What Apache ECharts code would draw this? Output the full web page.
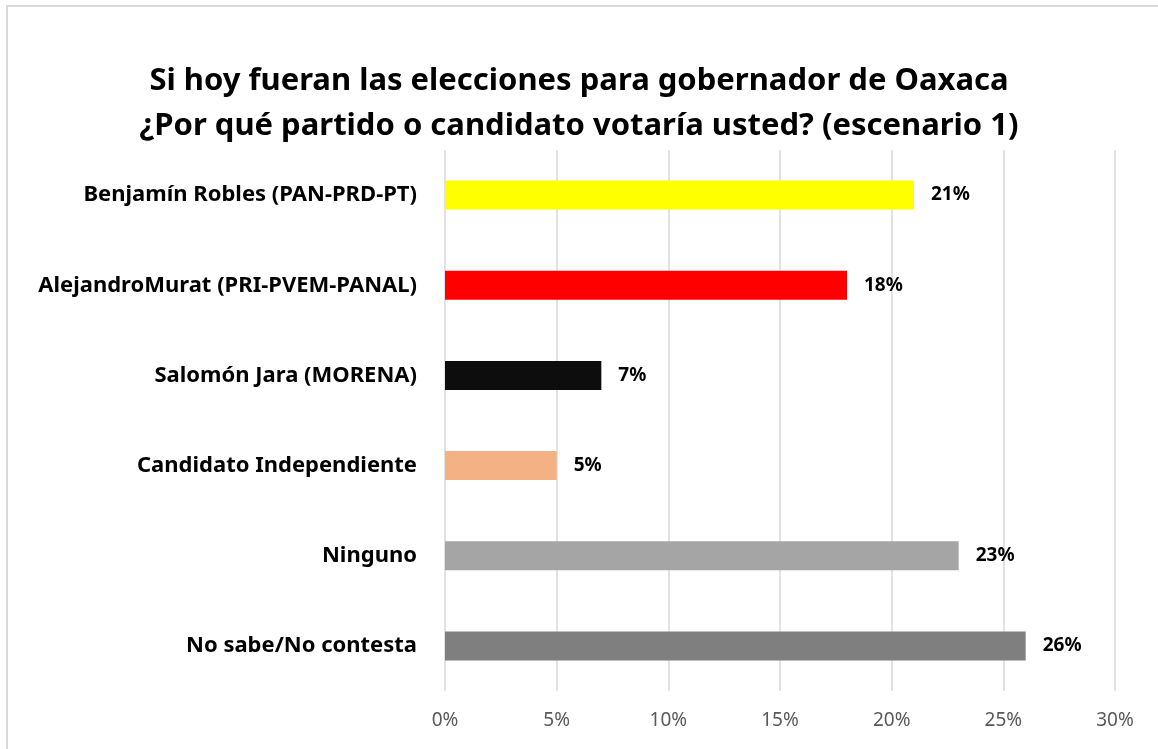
<!DOCTYPE html>
<html>
<head>
<meta charset="utf-8">
<script src="https://cdn.jsdelivr.net/npm/echarts@6/dist/echarts.min.js"></script>
<style>
html, body { margin: 0; padding: 0; background: #fff; }
#chart { width: 1158px; height: 749px; }
</style>
</head>
<body>
<div id="chart"></div>
<script>
// datos de la encuesta (escenario 1)
var categorias = [
    'Benjamín Robles (PAN-PRD-PT)',
    'AlejandroMurat (PRI-PVEM-PANAL)',
    'Salomón Jara (MORENA)',
    'Candidato Independiente',
    'Ninguno',
    'No sabe/No contesta'
];
var porcentajes = [21, 18, 7, 5, 23, 26];
var colores = ['#FFFF00', '#FF0000', '#0D0D0D', '#F4B183', '#A5A5A5', '#7F7F7F'];
var ticksX = [0, 5, 10, 15, 20, 25, 30];

var fuente = '"Noto Sans", "Open Sans", sans-serif';
var myChart = echarts.init(document.getElementById('chart'));

var option = {
    backgroundColor: '#fff',
    animation: false,
    title: {
        text: 'Si hoy fueran las elecciones para gobernador de Oaxaca\n¿Por qué partido o candidato votaría usted? (escenario 1)',
        left: 'center',
        top: 54,
        textStyle: {
            fontFamily: fuente,
            fontSize: 31,
            fontWeight: 'bold',
            color: '#000',
            lineHeight: 45
        }
    },
    graphic: [{
        type: 'rect',
        shape: { x: 7, y: 6, width: 1160, height: 760 },
        style: { fill: 'none', stroke: '#d9d9d9', lineWidth: 2 },
        silent: true
    }],
    grid: {
        left: 445,
        right: 43,
        top: 150,
        bottom: 58
    },
    xAxis: {
        type: 'value',
        min: ticksX[0],
        max: ticksX[ticksX.length - 1],
        interval: 5,
        axisLine: { show: false },
        axisTick: { show: false },
        splitLine: { lineStyle: { color: '#d9d9d9', width: 1.5 } },
        axisLabel: {
            formatter: '{value}%',
            color: '#595959',
            fontFamily: fuente,
            fontSize: 19,
            margin: 20
        }
    },
    yAxis: {
        type: 'category',
        inverse: true,
        data: categorias,
        axisLine: { show: false },
        axisTick: { show: false },
        axisLabel: {
            color: '#000',
            fontFamily: fuente,
            fontSize: 22,
            fontWeight: 'bold',
            margin: 28
        }
    },
    series: [{
        type: 'bar',
        barWidth: 29,
        data: porcentajes.map(function (v, i) {
            return { value: v, itemStyle: { color: colores[i] } };
        }),
        label: {
            show: true,
            position: 'right',
            distance: 17,
            formatter: '{c}%',
            color: '#000',
            fontFamily: fuente,
            fontSize: 19,
            fontWeight: 'bold'
        }
    }]
};
myChart.setOption(option);
</script>
</body>
</html>
